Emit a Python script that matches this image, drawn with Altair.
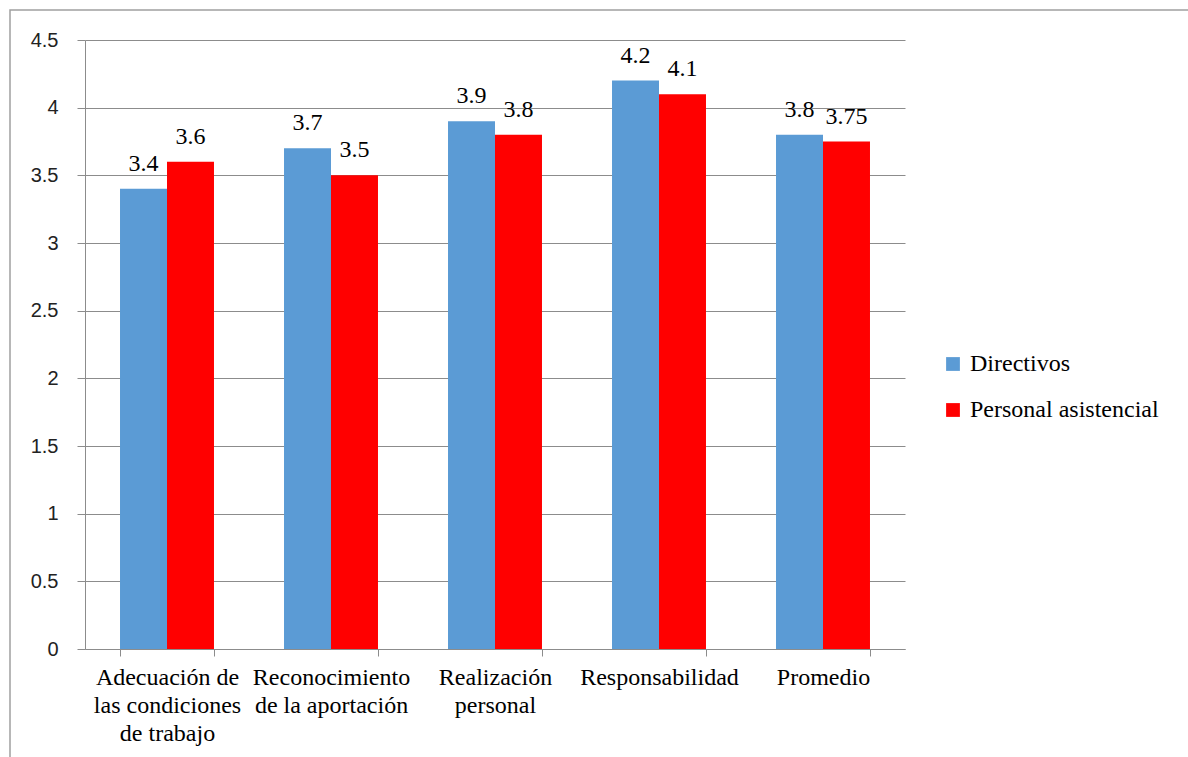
import json
import altair as alt
import pandas as pd

# Category labels, split into the lines shown under each group
category_lines = [
    ["Adecuación de", "las condiciones", "de trabajo"],
    ["Reconocimiento", "de la aportación"],
    ["Realización", "personal"],
    ["Responsabilidad"],
    ["Promedio"],
]
categories = [" ".join(lines) for lines in category_lines]

series = ["Directivos", "Personal asistencial"]
directivos = [3.4, 3.7, 3.9, 4.2, 3.8]
personal_asistencial = [3.6, 3.5, 3.8, 4.1, 3.75]
y_ticks = [0, 0.5, 1, 1.5, 2, 2.5, 3, 3.5, 4, 4.5]
colors = ["#5B9BD5", "#FF0000"]

rows = []
for cat, d, p in zip(categories, directivos, personal_asistencial):
    rows.append({"categoria": cat, "serie": series[0], "valor": d})
    rows.append({"categoria": cat, "serie": series[1], "valor": p})
df = pd.DataFrame(rows)

label_map = json.dumps(dict(zip(categories, category_lines)), ensure_ascii=False)

SERIF = "Liberation Serif"
W, H = 820, 609
PAD = {"left": 85, "top": 40, "right": 1188 - 85 - W, "bottom": 757 - 40 - H}

x = alt.X(
    "categoria:N",
    sort=categories,
    title=None,
    scale=alt.Scale(paddingInner=0.427, paddingOuter=0.2135),
    axis=alt.Axis(
        labelExpr=label_map + "[datum.value]",
        labelFont=SERIF,
        labelFontSize=24,
        labelColor="#000000",
        labelLineHeight=28,
        labelPadding=9,
        labelAngle=0,
        labelOverlap=False,
        labelLimit=300,
        tickBand="extent",
        tickSize=7,
        tickColor="#8c8c8c",
        domainColor="#8c8c8c",
        grid=False,
    ),
)
y = alt.Y(
    "valor:Q",
    title=None,
    scale=alt.Scale(domain=[0, 4.5], nice=False),
    axis=alt.Axis(
        values=y_ticks,
        format="~g",
        labelFont="Liberation Sans",
        labelFontSize=20,
        labelColor="#222222",
        labelPadding=19,
        tickSize=8,
        tickColor="#8c8c8c",
        domainColor="#8c8c8c",
        gridColor="#8c8c8c",
        gridWidth=1,
    ),
)

# Outer chart border (open on the right and bottom, as it runs off the page)
frame = alt.Chart(alt.Data(values=[{}])).mark_rect(
    fillOpacity=0, stroke="#a0a0a0", strokeWidth=1.5, clip=False
).encode(
    x=alt.value(-75), x2=alt.value(1300), y=alt.value(-30), y2=alt.value(900)
)

bars = alt.Chart(df).mark_bar().encode(
    x=x,
    y=y,
    xOffset=alt.XOffset("serie:N", sort=series, scale=alt.Scale(paddingInner=0, paddingOuter=0)),
    color=alt.Color(
        "serie:N",
        sort=series,
        scale=alt.Scale(domain=series, range=colors),
        legend=alt.Legend(
            title=None,
            orient="none",
            legendX=856,
            legendY=312,
            symbolType="square",
            symbolSize=190,
            symbolStrokeWidth=0,
            labelFont=SERIF,
            labelFontSize=24,
            labelColor="#000000",
            labelOffset=5,
            rowPadding=22,
            labelLimit=400,
        ),
    ),
)

labels = alt.Chart(df).mark_text(
    font=SERIF, fontSize=24, color="#000000", baseline="alphabetic", dy=-18
).encode(
    x=alt.X("categoria:N", sort=categories),
    xOffset=alt.XOffset("serie:N", sort=series),
    y="valor:Q",
    text=alt.Text("valor:Q", format="~g"),
)

chart = (
    alt.layer(frame, bars, labels)
    .properties(
        width=W,
        height=H,
        padding=PAD,
        autosize=alt.AutoSizeParams(type="none"),
        background="white",
    )
    .configure_view(stroke=None)
    .configure_text(font=SERIF)
)

chart.save("out.html", embed_options={"renderer": "svg", "actions": False})
